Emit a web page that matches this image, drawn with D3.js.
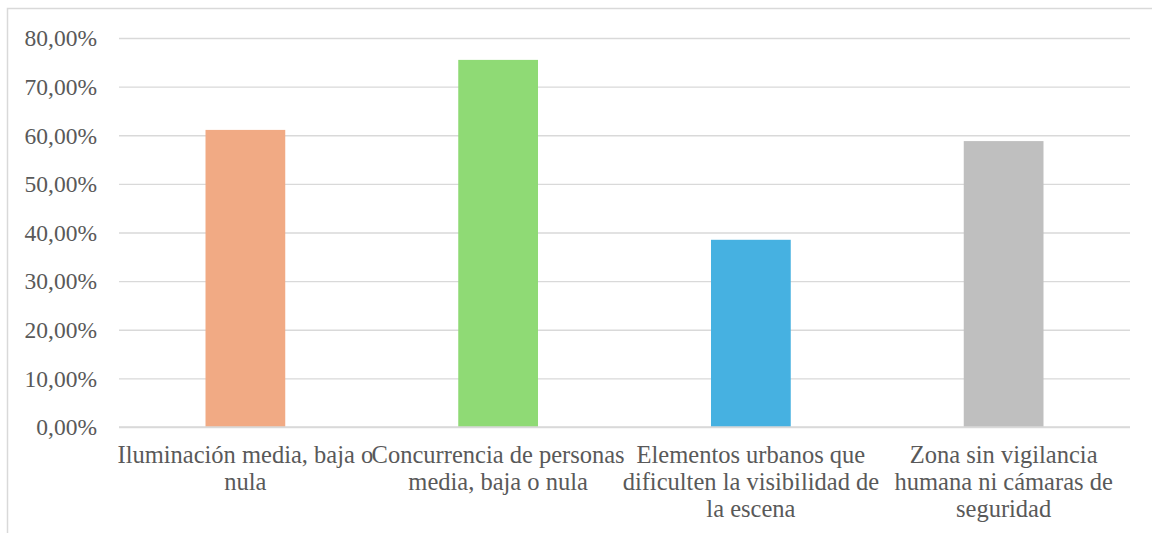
<!DOCTYPE html>
<html>
<head>
<meta charset="utf-8">
<script src="https://cdn.jsdelivr.net/npm/d3@7"></script>
<style>
  html, body { margin: 0; padding: 0; background: #fff; }
  svg { display: block; }
</style>
</head>
<body>
<svg id="chart" width="1152" height="533"></svg>
<script>
const categories = [
  "Iluminación media, baja o nula",
  "Concurrencia de personas media, baja o nula",
  "Elementos urbanos que dificulten la visibilidad de la escena",
  "Zona sin vigilancia humana ni cámaras de seguridad"
];
const categoryLines = [
  ["Iluminación media, baja o", "nula"],
  ["Concurrencia de personas", "media, baja o nula"],
  ["Elementos urbanos que", "dificulten la visibilidad de", "la escena"],
  ["Zona sin vigilancia", "humana ni cámaras de", "seguridad"]
];
const values = [0.611, 0.755, 0.385, 0.588];
const colors = ["#F1AA84", "#8FDA75", "#46B1E1", "#BFBFBF"];
const yTicks = [0, 0.1, 0.2, 0.3, 0.4, 0.5, 0.6, 0.7, 0.8];

const FONT = "'Liberation Serif', 'Times New Roman', Times, 'DejaVu Serif', serif";

const svg = d3.select("#chart");
const W = 1152, H = 533;
const plot = { left: 119, right: 1130, top: 38, bottom: 427 };

// outer chart border (clipped at right/bottom like the reference)
svg.append("path")
  .attr("d", `M7.5,${H + 2} L7.5,8.5 L${W + 2},8.5`)
  .attr("fill", "none")
  .attr("stroke", "#d9d9d9")
  .attr("stroke-width", 1.5);

const x = d3.scaleBand()
  .domain(categories)
  .range([plot.left, plot.right])
  .paddingInner(0.6845)
  .paddingOuter(0.34225);

const y = d3.scaleLinear()
  .domain([0, 0.8])
  .range([plot.bottom, plot.top]);

const fmt = v => d3.format(".2f")(v * 100).replace(".", ",") + "%";

// grid lines
const yAxis = d3.axisLeft(y)
  .tickValues(yTicks)
  .tickSize(-(plot.right - plot.left))
  .tickPadding(22)
  .tickFormat(fmt);

const gy = svg.append("g")
  .attr("transform", `translate(${plot.left},0)`)
  .call(yAxis)
  .attr("font-family", null);
gy.select(".domain").remove();
gy.selectAll(".tick line")
  .attr("stroke", "#d9d9d9")
  .attr("stroke-width", 1.3);
gy.selectAll(".tick text")
  .style("font-family", FONT)
  .style("font-size", "23.5px")
  .style("fill", "#595959")
  .attr("dy", "0.33em");

// bars
svg.append("g")
  .selectAll("rect")
  .data(categories)
  .join("rect")
  .attr("x", d => x(d))
  .attr("width", x.bandwidth())
  .attr("y", (d, i) => y(values[i]))
  .attr("height", (d, i) => y(0) - y(values[i]))
  .attr("fill", (d, i) => colors[i]);

// baseline
svg.append("line")
  .attr("x1", plot.left).attr("x2", plot.right)
  .attr("y1", y(0)).attr("y2", y(0))
  .attr("stroke", "#d9d9d9")
  .attr("stroke-width", 1.5);

// category labels
const xAxis = d3.axisBottom(x).tickSize(0).tickFormat("");
const gx = svg.append("g")
  .attr("transform", `translate(0,${plot.bottom})`)
  .call(xAxis)
  .attr("font-family", null);
gx.select(".domain").remove();
gx.selectAll(".tick").each(function(d, i) {
  const t = d3.select(this).append("text")
    .attr("text-anchor", "middle")
    .style("font-family", FONT)
    .style("font-size", "24.5px")
    .style("fill", "#595959");
  categoryLines[i].forEach((line, j) => {
    t.append("tspan")
      .attr("x", 0)
      .attr("y", 36 + j * 27)
      .text(line);
  });
});
</script>
</body>
</html>
